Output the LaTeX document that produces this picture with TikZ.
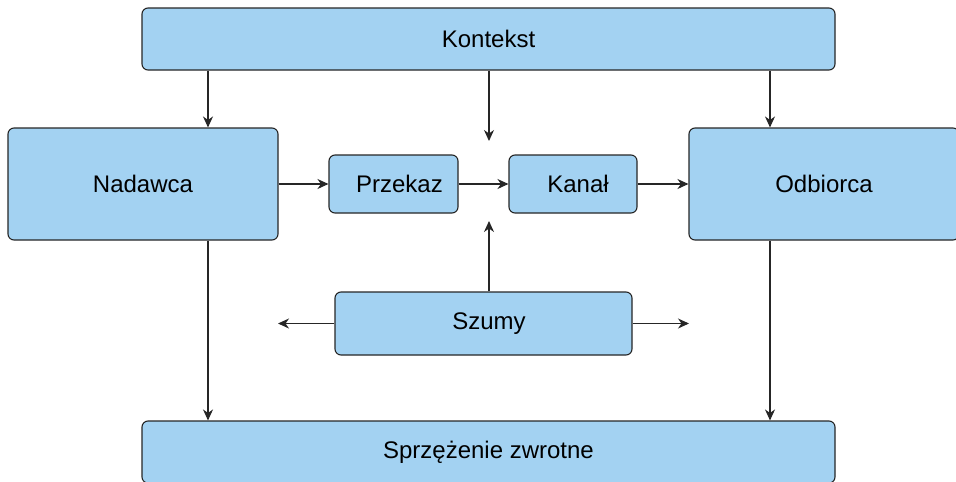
\documentclass[tikz,border=0pt]{standalone}
\usepackage{fontspec}
\setmainfont{Liberation Sans}
\usepackage{xcolor}
\usetikzlibrary{positioning, arrows.meta}

\definecolor{boxblue}{RGB}{163,210,242}

\tikzset{
  blok/.style={draw=black!85, fill=boxblue, line width=1.1pt, rounded corners=6pt,
               inner sep=0pt, font=\fontsize{24pt}{28pt}\selectfont},
  strz/.style={line width=1.1pt, draw=black!85,
               -{Stealth[length=11pt, width=10pt, inset=3.5pt]}}
}

\begin{document}
\begin{tikzpicture}[x=1pt, y=-1pt]
  \useasboundingbox (0,0) rectangle (956,482);
  % Boxes
  \node[blok, minimum width=693pt, minimum height=62pt] (kontekst) at (488.5, 39) {Kontekst};
  \node[blok, minimum width=270pt, minimum height=112pt] (nadawca) at (143, 184) {Nadawca};
  \node[blok, minimum width=129pt, minimum height=58pt] (przekaz) at (393.5, 184)
    {\hspace*{12pt}Przekaz};
  \node[blok, minimum width=128pt, minimum height=58pt] (kanal) at (573, 184)
    {\hspace*{10pt}Kanał};
  \node[blok, minimum width=270pt, minimum height=112pt] (odbiorca) at (824, 184) {Odbiorca};
  \node[blok, minimum width=297pt, minimum height=63pt] (szumy) at (483.5, 323.5)
    {\hspace*{11pt}Szumy};
  \node[blok, minimum width=693pt, minimum height=62pt] (sprzezenie) at (488.5, 452)
    {Sprzężenie zwrotne};
  % Free arrow ends
  \coordinate (kontekstdol) at (489, 141);
  \coordinate (szumygora) at (489, 221);
  \coordinate (szumylewo) at (278, 323.5);
  \coordinate (szumyprawo) at (689, 323.5);
  % Context arrows
  \draw[strz] (kontekst.south -| 208,0) -- (nadawca.north -| 208,0);
  \draw[strz] (kontekst.south -| kontekstdol) -- (kontekstdol);
  \draw[strz] (kontekst.south -| 770,0) -- (odbiorca.north -| 770,0);
  % Message flow
  \draw[strz] (nadawca) -- (przekaz);
  \draw[strz] (przekaz) -- (kanal);
  \draw[strz] (kanal) -- (odbiorca);
  % Noise
  \draw[strz] (szumy.north -| szumygora) -- (szumygora);
  \draw[strz] (szumy.west) -- (szumylewo);
  \draw[strz] (szumy.east) -- (szumyprawo);
  % Feedback
  \draw[strz] (nadawca.south -| 208,0) -- (sprzezenie.north -| 208,0);
  \draw[strz] (odbiorca.south -| 770,0) -- (sprzezenie.north -| 770,0);
\end{tikzpicture}
\end{document}
